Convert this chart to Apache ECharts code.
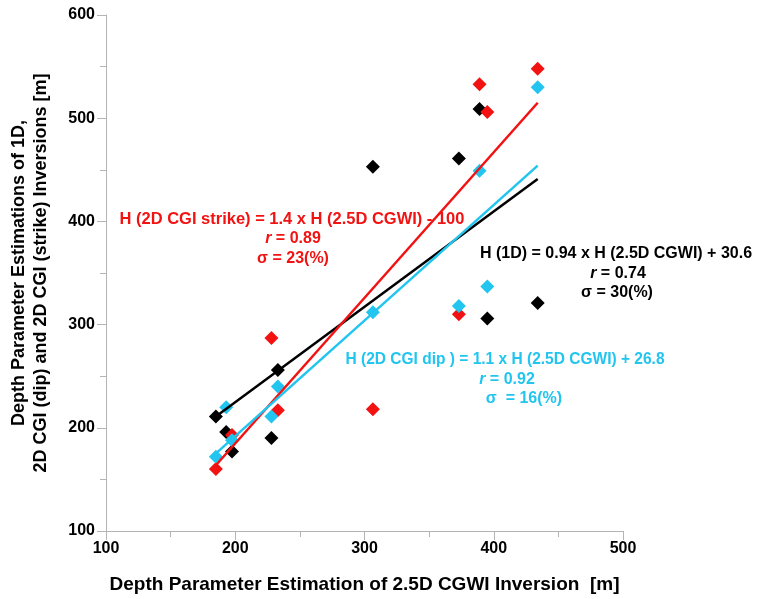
<!DOCTYPE html>
<html><head><meta charset="utf-8">
<script src="https://cdn.jsdelivr.net/npm/echarts@6/dist/echarts.min.js"></script>
<style>html,body{margin:0;padding:0;background:#fff}#c{width:768px;height:599px}</style>
</head><body><div id="c"></div>
<script>
// Site x values (2.5D CGWI depth, m)
const siteX = [185, 193, 197.5, 228, 233, 306.5, 373, 389, 395, 434];
// H (1D)
const yBlack = [211, 196, 177, 190, 256, 453, 461, 509, 306, 321];
// H (2D CGI strike) (one site hidden / missing)
const xRed = [185, 197.5, 228, 233, 306.5, 373, 389, 395, 434];
const yRed = [160, 193, 287, 217, 218, 310, 533, 506, 548];
// H (2D CGI dip)
const yCyan = [172, 220, 188, 211, 240, 312, 318, 449, 337, 530];
// regression line end points as drawn
const fitBlackX = [185, 434], fitBlackY = [211, 441];
const fitRedX = [184.5, 434], fitRedY = [163, 515];
const fitCyanX = [184, 434], fitCyanY = [174, 454];
const xTicks = [100, 500, 100];
const yTicks = [100, 600, 100];

const RED = '#f21212', CYAN = '#22c5ef', BLACK = '#000000';
const FONT = 'Arial, "Liberation Sans", sans-serif';
const zip = (a, b) => a.map((v, i) => [v, b[i]]);

const chart = echarts.init(document.getElementById('c'));
const axisCommon = {
  axisLine: {lineStyle: {color: '#b4b4b4', width: 1}},
  axisTick: {show: true, inside: false, length: 9, lineStyle: {color: '#b4b4b4'}},
  minorTick: {show: true, splitNumber: 2, length: 6, lineStyle: {color: '#b4b4b4'}},
  splitLine: {show: false},
  axisLabel: {color: '#000', fontWeight: 'bold', fontSize: 16, fontFamily: FONT},
  nameTextStyle: {color: '#000', fontWeight: 'bold', fontSize: 19, fontFamily: FONT}
};
const txt = (x, y, text, color, rich, sx) => ({
  type: 'text', x: x, y: y, z: 100, scaleX: sx || 1,
  style: {text: text, fill: color, font: 'bold 16px ' + FONT, textAlign: 'center', textVerticalAlign: 'middle',
    rich: rich ? {i: {fontStyle: 'italic', fontWeight: 'bold', fontSize: 16, fontFamily: FONT, fill: color}} : undefined}
});
chart.setOption({
  animation: false,
  grid: {left: 106, right: 145, top: 15, bottom: 68},
  xAxis: Object.assign({}, axisCommon, {
    type: 'value', min: xTicks[0], max: xTicks[1], interval: xTicks[2],
    name: 'Depth Parameter Estimation of 2.5D CGWI Inversion  [m]',
    nameLocation: 'middle', nameGap: 44,
    axisLabel: Object.assign({}, axisCommon.axisLabel, {margin: 10})
  }),
  yAxis: Object.assign({}, axisCommon, {
    type: 'value', min: yTicks[0], max: yTicks[1], interval: yTicks[2],
    name: 'Depth Parameter Estimations of 1D,\n2D CGI (dip) and 2D CGI (strike) Inversions [m]',
    nameLocation: 'middle', nameGap: 54, nameRotate: 90,
    nameTextStyle: Object.assign({}, axisCommon.nameTextStyle, {fontSize: 18, lineHeight: 22}),
    axisLabel: Object.assign({}, axisCommon.axisLabel, {margin: 11})
  }),
  series: [
    {type: 'scatter', data: zip(siteX, yBlack), symbol: 'diamond', symbolSize: 14, itemStyle: {color: BLACK, opacity: 1}, z: 2},
    {type: 'scatter', data: zip(xRed, yRed), symbol: 'diamond', symbolSize: 14, itemStyle: {color: RED, opacity: 1}, z: 2},
    {type: 'scatter', data: zip(siteX, yCyan), symbol: 'diamond', symbolSize: 14, itemStyle: {color: CYAN, opacity: 1}, z: 2},
    {type: 'line', data: zip(fitBlackX, fitBlackY), showSymbol: false, lineStyle: {color: BLACK, width: 2.5}, z: 3},
    {type: 'line', data: zip(fitRedX, fitRedY), showSymbol: false, lineStyle: {color: RED, width: 2.5}, z: 3},
    {type: 'line', data: zip(fitCyanX, fitCyanY), showSymbol: false, lineStyle: {color: CYAN, width: 2.5}, z: 3}
  ],
  graphic: [
    txt(292, 220, 'H (2D CGI strike) = 1.4 x H (2.5D CGWI) - 100', RED, false, 1.03),
    txt(293, 239, '{i|r} = 0.89', RED, true),
    txt(293, 259, 'σ = 23(%)', RED),
    txt(616, 254, 'H (1D) = 0.94 x H (2.5D CGWI) + 30.6', BLACK),
    txt(618, 274, '{i|r} = 0.74', BLACK, true),
    txt(617, 293, 'σ = 30(%)', BLACK),
    txt(505, 360, 'H (2D CGI dip ) = 1.1 x H (2.5D CGWI) + 26.8', CYAN, false, 0.97),
    txt(507, 380, '{i|r} = 0.92', CYAN, true),
    txt(524, 399, 'σ  = 16(%)', CYAN)
  ]
});
</script></body></html>
